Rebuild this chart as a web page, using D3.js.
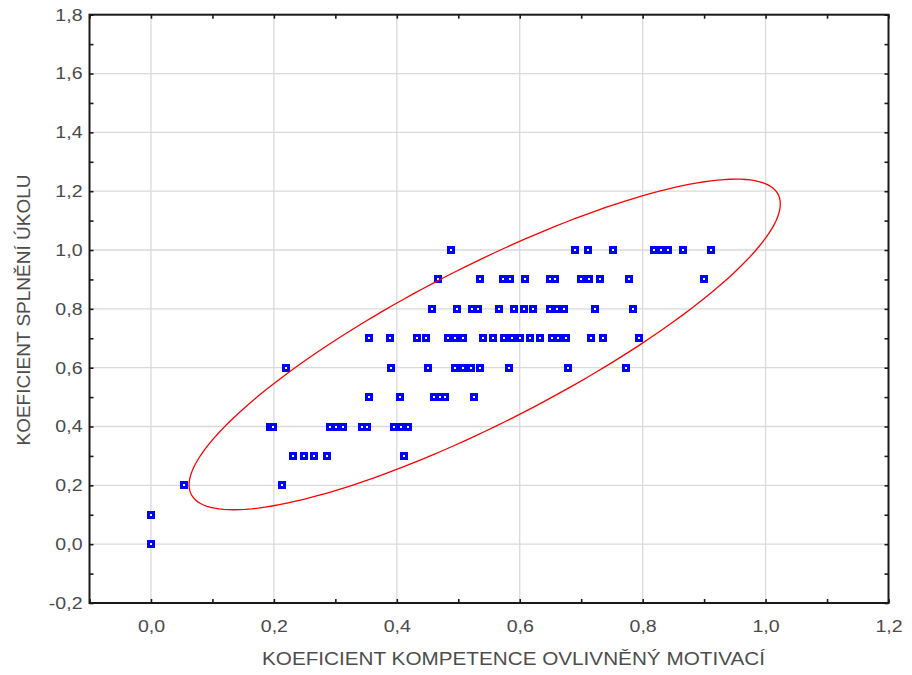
<!DOCTYPE html>
<html>
<head>
<meta charset="utf-8">
<script src="https://cdn.jsdelivr.net/npm/d3@7"></script>
<style>
  html, body { margin: 0; padding: 0; background: #ffffff; }
  svg { display: block; }
  .tick-label { font-family: "Liberation Sans", Arial, sans-serif; font-size: 17px; fill: #4a4a4a; }
  .axis-title { font-family: "Liberation Sans", Arial, sans-serif; font-size: 19px; fill: #4d4d4d; }
</style>
</head>
<body>
<svg id="chart" width="912" height="675"></svg>
<script>
// Axis titles
const xTitle = "KOEFICIENT KOMPETENCE OVLIVNĚNÝ MOTIVACÍ";
const yTitle = "KOEFICIENT SPLNĚNÍ ÚKOLU";

// Axis extents and labelled ticks
const xDomain = [-0.1, 1.2];
const yDomain = [-0.2, 1.8];
const xTickValues = [0.0, 0.2, 0.4, 0.6, 0.8, 1.0, 1.2];
const yTickValues = [-0.2, 0.0, 0.2, 0.4, 0.6, 0.8, 1.0, 1.2, 1.4, 1.6, 1.8];

// Observations: competence coefficient (x) and task-fulfilment coefficient (y)
const kompetence = [
  0.000,
  0.000,
  0.053, 0.214,
  0.231, 0.249, 0.265, 0.286, 0.412,
  0.194, 0.199, 0.291, 0.301, 0.312, 0.344, 0.351, 0.395, 0.407, 0.419,
  0.355, 0.406, 0.461, 0.470, 0.478, 0.525,
  0.220, 0.390, 0.451, 0.495, 0.508, 0.520, 0.535, 0.583, 0.679, 0.773,
  0.355, 0.389, 0.433, 0.448, 0.484, 0.495, 0.507, 0.540, 0.556, 0.574,
  0.587, 0.600, 0.617, 0.633, 0.652, 0.663, 0.676, 0.716, 0.736, 0.794,
  0.458, 0.498, 0.523, 0.532, 0.566, 0.591, 0.607, 0.622, 0.649, 0.660, 0.672, 0.723, 0.785,
  0.467, 0.535, 0.572, 0.584, 0.609, 0.650, 0.657, 0.699, 0.713, 0.731, 0.777, 0.900,
  0.488, 0.690, 0.711, 0.751, 0.819, 0.830, 0.841, 0.866, 0.912
];
const splneni = [
  0.0,
  0.1,
  0.2, 0.2,
  0.3, 0.3, 0.3, 0.3, 0.3,
  0.4, 0.4, 0.4, 0.4, 0.4, 0.4, 0.4, 0.4, 0.4, 0.4,
  0.5, 0.5, 0.5, 0.5, 0.5, 0.5,
  0.6, 0.6, 0.6, 0.6, 0.6, 0.6, 0.6, 0.6, 0.6, 0.6,
  0.7, 0.7, 0.7, 0.7, 0.7, 0.7, 0.7, 0.7, 0.7, 0.7,
  0.7, 0.7, 0.7, 0.7, 0.7, 0.7, 0.7, 0.7, 0.7, 0.7,
  0.8, 0.8, 0.8, 0.8, 0.8, 0.8, 0.8, 0.8, 0.8, 0.8, 0.8, 0.8, 0.8,
  0.9, 0.9, 0.9, 0.9, 0.9, 0.9, 0.9, 0.9, 0.9, 0.9, 0.9, 0.9,
  1.0, 1.0, 1.0, 1.0, 1.0, 1.0, 1.0, 1.0, 1.0
];

// Prediction ellipse in data units: centre, semi-extents along x and y, correlation
const ellipseCenter = [0.543, 0.679];
const ellipseSpread = [0.481, 0.562];
const ellipseCorrelation = 0.85;

const svg = d3.select("#chart");
const W = 912, H = 675;
const plot = { left: 89.5, right: 888.5, top: 14.7, bottom: 603 };

const x = d3.scaleLinear().domain(xDomain).range([plot.left, plot.right]);
const y = d3.scaleLinear().domain(yDomain).range([plot.bottom, plot.top]);

const fmt = d => d3.format(".1f")(d).replace(".", ",").replace("\u2212", "-");
const eps = 1e-9;

svg.append("rect").attr("width", W).attr("height", H).attr("fill", "#ffffff");

// Grid lines at the labelled values inside the frame
const g = svg.append("g").attr("class", "grid");
g.selectAll("line.vx")
  .data(xTickValues.filter(v => v > xDomain[0] + eps && v < xDomain[1] - eps))
  .join("line")
  .attr("x1", d => x(d)).attr("x2", d => x(d))
  .attr("y1", plot.top).attr("y2", plot.bottom)
  .attr("stroke", "#dadada").attr("stroke-width", 1.3);
g.selectAll("line.hy")
  .data(yTickValues.filter(v => v > yDomain[0] + eps && v < yDomain[1] - eps))
  .join("line")
  .attr("x1", plot.left).attr("x2", plot.right)
  .attr("y1", d => y(d)).attr("y2", d => y(d))
  .attr("stroke", "#dadada").attr("stroke-width", 1.3);

// Scatter markers: hollow blue squares
const pts = kompetence.map((v, i) => ({ kx: v, sy: splneni[i] }));
svg.append("g").attr("class", "points")
  .selectAll("rect")
  .data(pts)
  .join("rect")
  .attr("x", d => Math.round(x(d.kx)) - 2.5)
  .attr("y", d => Math.round(y(d.sy)) - 2.5)
  .attr("width", 5).attr("height", 5)
  .attr("fill", "#ffffff")
  .attr("stroke", "#0000ff")
  .attr("stroke-width", 3);

// Ellipse traced parametrically in data space, then projected through the scales
const steps = d3.range(0, 360, 2).map(a => a * Math.PI / 180);
const rho = ellipseCorrelation;
const ellipsePts = steps.map(t => [
  ellipseCenter[0] + ellipseSpread[0] * Math.cos(t),
  ellipseCenter[1] + ellipseSpread[1] * (rho * Math.cos(t) + Math.sqrt(1 - rho * rho) * Math.sin(t))
]);
svg.append("path")
  .datum(ellipsePts)
  .attr("d", d3.line().x(d => x(d[0])).y(d => y(d[1])).curve(d3.curveLinearClosed))
  .attr("fill", "none")
  .attr("stroke", "#ff0000")
  .attr("stroke-width", 1.3);

// Inward ticks every 0.1 on all four sides
const xMinor = d3.range(Math.round(xDomain[0] * 10), Math.round(xDomain[1] * 10) + 1).map(v => v / 10);
const yMinor = d3.range(Math.round(yDomain[0] * 10), Math.round(yDomain[1] * 10) + 1).map(v => v / 10);
const tickStyle = sel => {
  sel.select(".domain").remove();
  sel.selectAll(".tick line").attr("stroke", "#1a1a1a").attr("stroke-width", 1.6);
  sel.selectAll(".tick text").remove();
};
svg.append("g").attr("transform", `translate(0,${plot.bottom})`)
  .call(d3.axisBottom(x).tickValues(xMinor).tickSize(-4)).call(tickStyle);
svg.append("g").attr("transform", `translate(0,${plot.top})`)
  .call(d3.axisTop(x).tickValues(xMinor).tickSize(-4)).call(tickStyle);
svg.append("g").attr("transform", `translate(${plot.left},0)`)
  .call(d3.axisLeft(y).tickValues(yMinor).tickSize(-4)).call(tickStyle);
svg.append("g").attr("transform", `translate(${plot.right},0)`)
  .call(d3.axisRight(y).tickValues(yMinor).tickSize(-4)).call(tickStyle);

// Tick labels through axes (no tick lines)
const xLab = svg.append("g").attr("transform", `translate(0,${plot.bottom})`)
  .call(d3.axisBottom(x).tickValues(xTickValues).tickSize(0).tickPadding(17).tickFormat(fmt));
xLab.select(".domain").remove();
xLab.selectAll("text").attr("class", "tick-label").attr("font-family", null).attr("font-size", null)
  .attr("fill", null)
  .style("transform-box", "fill-box").style("transform-origin", "center")
  .style("transform", "scaleX(1.15)");

const yLab = svg.append("g").attr("transform", `translate(${plot.left},0)`)
  .call(d3.axisLeft(y).tickValues(yTickValues).tickSize(0).tickPadding(7).tickFormat(fmt));
yLab.select(".domain").remove();
yLab.selectAll("text").attr("class", "tick-label").attr("font-family", null).attr("font-size", null)
  .attr("fill", null)
  .style("transform-box", "fill-box").style("transform-origin", "right center")
  .style("transform", "scaleX(1.15)");

// Frame
svg.append("rect")
  .attr("x", plot.left).attr("y", plot.top)
  .attr("width", plot.right - plot.left).attr("height", plot.bottom - plot.top)
  .attr("fill", "none").attr("stroke", "#1a1a1a").attr("stroke-width", 2);

// Axis titles
svg.append("text").attr("class", "axis-title")
  .attr("x", 513.5).attr("y", 665).attr("text-anchor", "middle")
  .style("transform-box", "fill-box").style("transform-origin", "center")
  .style("transform", "scaleX(1.09)")
  .text(xTitle);
svg.append("text").attr("class", "axis-title")
  .attr("transform", "translate(30,310) rotate(-90)")
  .attr("text-anchor", "middle")
  .text(yTitle);
</script>
</body>
</html>
